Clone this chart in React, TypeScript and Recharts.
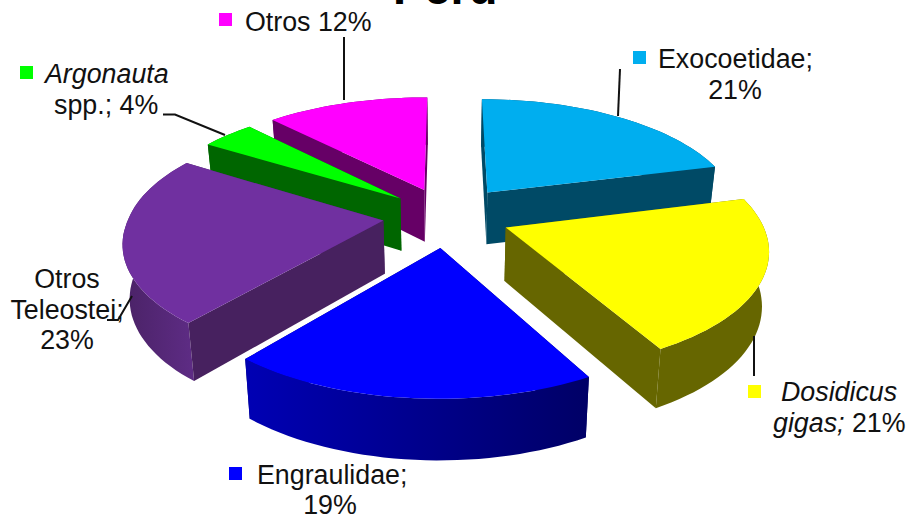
import { PieChart, Pie } from "recharts";

// listed in paint order, going counter-clockwise from the end of Exocoetidae
const categories = ["Exocoetidae", "Otros", "Argonauta", "Otros Teleostei", "Engraulidae", "Dosidicus"];
const shares = [21, 12, 4, 23, 19, 21];
const topColors = ["#00aeef", "#ff00ff", "#00ff00", "#7030a0", "#0000ff", "#ffff00"];
const wallLeft = ["#004a66", "#660066", "#006600", "#4a2266", "#0000b4", "#666600"];
const wallRight = ["#004a66", "#660066", "#006600", "#5e2c85", "#000066", "#666600"];
const edgeColors = ["#004a66", "#660066", "#006600", "#47215f", "#000066", "#666600"];
const explodes = [68, 64, 62, 64, 68, 63];

const data = categories.map((name, i) => ({ name, value: shares[i], fill: topColors[i] }));

const START = 90 - shares[0] * 3.6;
const PERSPECTIVE = 0.16;
const TILT = 0.453;
const FONT = "'Liberation Sans', Arial, sans-serif";
const INK = "#111";

const toPath = (pts: number[][]) => "M" + pts.map((p) => `${p[0].toFixed(1)},${p[1].toFixed(1)}`).join("L") + "Z";

function Slice3D(props: any) {
  const { cx, cy, outerRadius: R, startAngle, endAngle, index } = props;
  const rad = Math.PI / 180;
  const mid = ((startAngle + endAngle) / 2) * rad;
  const mu = Math.cos(mid);
  const mv = -Math.sin(mid);
  const ou = explodes[index] * mu;
  const ov = explodes[index] * mv;

  // the original's camera is a little wider on the back left
  const warp = (u: number, v: number) => (u < 0 ? u * (1 + 0.03 * Math.max(0, -v / R)) : u);
  const scale = (v: number) => 1 / (1 - (PERSPECTIVE * (v + ov)) / R);
  const top = (u: number, v: number) => {
    const s = scale(v);
    return [cx + (warp(u, v) + ou) * s, cy + (v + ov) * TILT * s];
  };
  const bottom = (u: number, v: number) => {
    const s = scale(v);
    return [cx + (warp(u, v) + ou) * s * 0.978, cy + (v + ov) * TILT * s + 19 + 34 * s];
  };

  const steps = Math.max(4, Math.ceil(Math.abs(endAngle - startAngle) / 2));
  const arc: number[][] = [];
  for (let i = 0; i <= steps; i++) {
    const a = (startAngle + ((endAngle - startAngle) * i) / steps) * rad;
    arc.push([R * Math.cos(a), -R * Math.sin(a)]);
  }
  const wall = (b: number[]) => toPath([top(0, 0), top(b[0], b[1]), bottom(b[0], b[1]), bottom(0, 0)]);
  const arcWall = toPath([
    ...arc.map((p) => top(p[0], p[1])),
    ...arc.slice().reverse().map((p) => bottom(p[0], p[1])),
  ]);

  // a straight wall faces the viewer when its outward normal points down the screen
  const facesFront = (e: number[]) => {
    const sign = -e[1] * mu + e[0] * mv < 0 ? 1 : -1;
    return sign * e[0] > 0;
  };
  const edges = [arc[0], arc[arc.length - 1]];
  const gradId = `wall-${index}`;

  return (
    <g>
      <defs>
        <linearGradient id={gradId} x1="0" x2="1" y1="0" y2="0">
          <stop offset="0" stopColor={wallLeft[index]} />
          <stop offset="1" stopColor={wallRight[index]} />
        </linearGradient>
      </defs>
      {edges.filter((e) => !facesFront(e)).map((e, i) => (
        <path key={i} d={wall(e)} fill={edgeColors[index]} />
      ))}
      <path d={arcWall} fill={`url(#${gradId})`} />
      {edges.filter(facesFront).map((e, i) => (
        <path key={i} d={wall(e)} fill={edgeColors[index]} />
      ))}
      <path d={toPath([top(0, 0), ...arc.map((p) => top(p[0], p[1]))])} fill={topColors[index]} />
    </g>
  );
}

const Key = ({ x, y, fill }: any) => <rect x={x} y={y} width={13} height={13} fill={fill} />;
const Leader = ({ points }: { points: string }) => <polyline points={points} fill="none" stroke={INK} strokeWidth={2} />;

function SliceLabel({ index }: any) {
  const name = categories[index];
  const text = { fontFamily: FONT, fontSize: 26.8, fill: INK };
  if (name === "Otros") {
    return (
      <g>
        <Leader points="344,37 344,100" />
        <Key x={219} y={13} fill={topColors[index]} />
        <text x={245} y={31} {...text}>Otros 12%</text>
      </g>
    );
  }
  if (name === "Argonauta") {
    return (
      <g>
        <Leader points="163,114.5 175,114.5 225,135" />
        <Key x={20} y={66} fill={topColors[index]} />
        <text x={45} y={83} fontStyle="italic" {...text}>Argonauta</text>
        <text x={54} y={114} {...text}>spp.; 4%</text>
      </g>
    );
  }
  if (name === "Exocoetidae") {
    return (
      <g>
        <Leader points="620,69 618,116" />
        <Key x={633} y={51} fill={topColors[index]} />
        <text x={658} y={68} {...text}>Exocoetidae;</text>
        <text x={735} y={99} textAnchor="middle" {...text}>21%</text>
      </g>
    );
  }
  if (name === "Dosidicus") {
    return (
      <g>
        <Leader points="754,336 754,376" />
        <Key x={748} y={385} fill={topColors[index]} />
        <text x={781} y={401} fontStyle="italic" {...text}>Dosidicus</text>
        <text x={773} y={432} {...text}>
          <tspan fontStyle="italic">gigas;</tspan> 21%
        </text>
      </g>
    );
  }
  if (name === "Engraulidae") {
    return (
      <g>
        <Key x={229} y={467} fill={topColors[index]} />
        <text x={257} y={484} {...text}>Engraulidae;</text>
        <text x={330} y={514} textAnchor="middle" {...text}>19%</text>
      </g>
    );
  }
  return (
    <g>
      <text x={67} y={288} textAnchor="middle" {...text}>Otros</text>
      <text x={67} y={319} textAnchor="middle" {...text}>Teleostei;</text>
      <text x={67} y={349} textAnchor="middle" {...text}>23%</text>
      <Leader points="107,320 118,320 132,296" />
    </g>
  );
}

export default function App() {
  return (
    <div style={{ position: "absolute", left: 0, top: 0, background: "#fff" }}>
      <PieChart width={908} height={516} margin={{ top: 0, right: 0, bottom: 0, left: 0 }}>
        <text x={393} y={4} fontFamily={FONT} fontSize={47} fontWeight="bold" fill="#000">Perú</text>
        <Pie
          data={data}
          dataKey="value"
          nameKey="name"
          cx={447}
          cy={216}
          innerRadius={0}
          outerRadius={254}
          startAngle={START}
          endAngle={START + 360}
          stroke="none"
          shape={Slice3D}
          inactiveShape={Slice3D}
          label={SliceLabel}
          labelLine={false}
          isAnimationActive={false}
        />
      </PieChart>
    </div>
  );
}
